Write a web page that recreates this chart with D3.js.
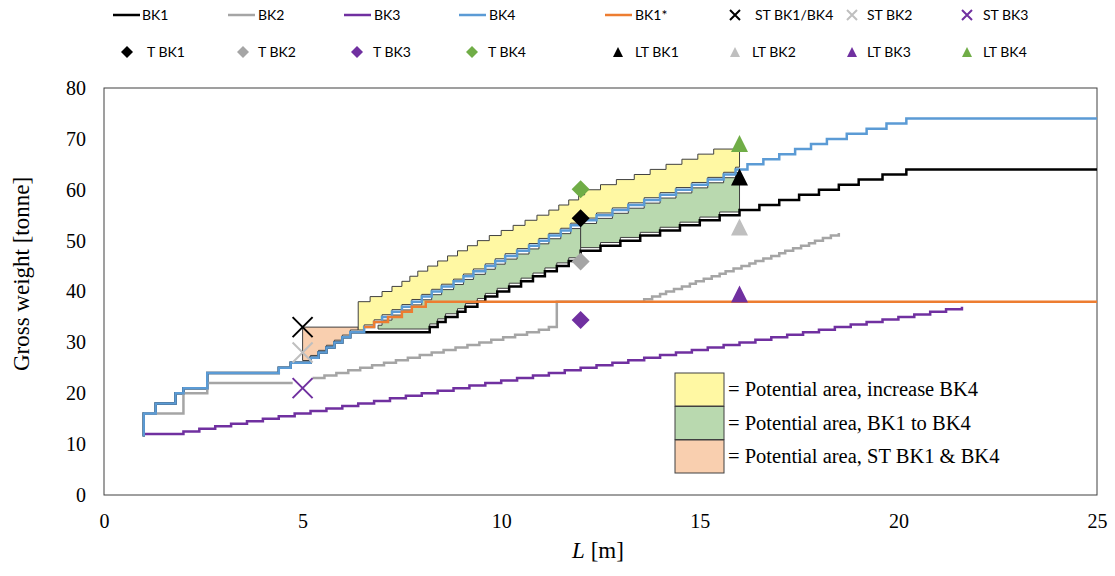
<!DOCTYPE html>
<html lang="en">
  <head>
    <meta charset="UTF-8" />
    <title>Gross weight vs L</title>
    <style>
      body { margin: 0; background: #fff; }
    </style>
  </head>
  <body>
    <svg id="chart"></svg>
    <script src="https://cdnjs.cloudflare.com/ajax/libs/d3/7.8.5/d3.min.js"></script>
    <script>
      const W = 1115, H = 576;
      const chart = d3.select("#chart").attr("width", W).attr("height", H);
      const SERIF = '"Liberation Serif", "Times New Roman", serif';
      const SANS = 'Lato, "Open Sans", sans-serif';

      const xTicks = [0, 5, 10, 15, 20, 25];
      const yTicks = [0, 10, 20, 30, 40, 50, 60, 70, 80];

      // step tables: [L from (m), gross weight (tonne)]; the last row ends the line
      const bk1 = [[1.0, 11.5], [1.0, 16], [1.3, 18], [1.8, 20], [2.0, 21], [2.6, 24], [4.4, 25], [4.7, 26],
        [5.2, 27], [5.4, 28], [5.6, 29], [5.8, 30], [6.0, 31], [6.2, 32], [8.2, 33], [8.4, 34], [8.6, 35],
        [8.9, 36], [9.1, 37], [9.4, 38], [9.6, 39], [9.9, 40], [10.2, 41], [10.5, 42], [10.8, 43], [11.1, 44],
        [11.4, 45], [11.7, 46], [12.0, 48], [12.5, 49], [13.0, 50], [13.5, 51], [14.0, 52], [14.5, 53],
        [15.0, 54], [15.5, 55], [16.0, 56], [16.5, 57], [17.0, 58], [17.5, 59], [18.0, 60], [18.5, 61],
        [19.0, 62], [19.6, 63], [20.2, 64], [25, 64]];
      const bk2a = [[1.0, 16], [2.0, 20], [2.6, 22], [4.75, 22]];
      const bk2b = [[5.25, 23], [5.55, 23.5], [5.85, 24], [6.15, 24.5], [6.45, 25], [6.75, 25.5], [7.05, 26],
        [7.35, 26.5], [7.65, 27], [7.95, 27.5], [8.25, 28], [8.55, 28.5], [8.85, 29], [9.15, 29.5], [9.45, 30],
        [9.75, 30.5], [10.05, 31], [10.35, 31.5], [10.65, 32], [10.95, 32.5], [11.2, 33], [11.4, 38],
        [13.6, 38.5], [13.8, 39], [14.0, 39.5], [14.15, 40], [14.35, 40.5], [14.55, 41], [14.75, 41.5],
        [14.9, 42], [15.1, 42.5], [15.3, 43], [15.5, 43.5], [15.65, 44], [15.85, 44.5], [16.05, 45],
        [16.25, 45.5], [16.4, 46], [16.6, 46.5], [16.8, 47], [17.0, 47.5], [17.15, 48], [17.35, 48.5],
        [17.55, 49], [17.75, 49.5], [17.9, 50], [18.1, 50.5], [18.3, 51], [18.5, 51.5]];
      const bk3 = [[1.0, 12], [2.0, 12.5], [2.4, 13], [2.8, 13.5], [3.2, 14], [3.6, 14.5], [4.0, 15], [4.4, 15.5],
        [4.8, 16], [5.2, 16.5], [5.6, 17], [6.0, 17.5], [6.4, 18], [6.8, 18.5], [7.2, 19], [7.6, 19.5],
        [8.0, 20], [8.4, 20.5], [8.8, 21], [9.2, 21.5], [9.6, 22], [10.0, 22.5], [10.4, 23], [10.8, 23.5],
        [11.2, 24], [11.6, 24.5], [12.0, 25], [12.4, 25.5], [12.8, 26], [13.2, 26.5], [13.6, 27], [14.0, 27.5],
        [14.4, 28], [14.8, 28.5], [15.2, 29], [15.6, 29.5], [16.0, 30], [16.4, 30.5], [16.8, 31], [17.2, 31.5],
        [17.6, 32], [18.0, 32.5], [18.4, 33], [18.8, 33.5], [19.2, 34], [19.6, 34.5], [20.0, 35], [20.4, 35.5],
        [20.8, 36], [21.2, 36.5], [21.6, 37], [21.6, 37]];
      const bk4 = [[1.0, 11.5], [1.0, 16], [1.3, 18], [1.8, 20], [2.0, 21], [2.6, 24], [4.4, 25], [4.7, 26],
        [5.2, 27], [5.4, 28], [5.6, 29], [5.8, 30], [6.0, 31], [6.2, 32], [6.55, 33], [6.8, 34], [7.0, 35],
        [7.25, 36], [7.5, 37], [7.75, 38], [8.0, 39], [8.25, 40], [8.5, 41], [8.8, 42], [9.05, 43], [9.3, 44],
        [9.6, 45], [9.85, 46], [10.1, 47], [10.4, 48], [10.7, 49], [10.95, 50], [11.2, 51], [11.5, 52],
        [11.75, 53], [12.0, 54], [12.4, 55], [12.8, 56], [13.2, 57], [13.6, 58], [14.0, 59], [14.4, 60],
        [14.8, 61], [15.2, 62], [15.6, 63], [15.9, 64], [16.2, 65], [16.6, 66], [17.0, 67], [17.4, 68],
        [17.8, 69], [18.2, 70], [18.7, 71], [19.2, 72], [19.7, 73], [20.2, 74], [25, 74]];
      const bk1star = [[6.55, 33], [6.8, 34], [7.15, 35], [7.5, 36], [7.75, 37], [8.1, 38], [25, 38]];
      const yellowTop = [[6.4, 38], [6.7, 39], [7.0, 40], [7.25, 41], [7.5, 42], [7.7, 43], [7.9, 44],
        [8.15, 45], [8.4, 46], [8.65, 47], [8.9, 48], [9.15, 49], [9.4, 50], [9.7, 51], [10.0, 52], [10.3, 53],
        [10.6, 54], [10.9, 55], [11.2, 56], [11.45, 57], [11.7, 58], [11.95, 59], [12.1, 60], [12.5, 61], [12.9, 62],
        [13.35, 63], [13.75, 64], [14.15, 65], [14.55, 66], [14.95, 67], [15.35, 68], [16.0, 68]];
      const peachTop = [[5.0, 33], [6.4, 33]];

      const yellowSpan = [6.4, 16.0];
      const greenSpans = [[6.9, 12.0], [12.0, 16.0]];
      const peachSpan = [5.0, 6.4];

      // single points
      const stL = 5.0, stW = [33, 28, 21];              // ST BK1/BK4, ST BK2, ST BK3
      const tL = 12.0, tW = [54.4, 45.9, 34.4, 60.1];   // T BK1..BK4
      const ltL = 16.0, ltW = [62.5, 52.7, 39.5, 69.1]; // LT BK1..BK4

      const x = d3.scaleLinear().domain([0, 25]).range([104, 1097]);
      const y = d3.scaleLinear().domain([0, 80]).range([495, 88]);

      // expand a step table into corner points, clipped to [a, b]
      function stepPts(tab, a, b) {
        const pts = [];
        for (let i = 0; i < tab.length; i++) {
          const [L, Wt] = tab[i];
          const next = i < tab.length - 1 ? tab[i + 1][0] : L;
          const s = Math.max(L, a), e = Math.min(next, b);
          if (e < s) continue;
          if (e === s && next !== L) continue;
          pts.push([s, Wt], [e, Wt]);
        }
        return pts;
      }

      const line = d3.line().x((d) => x(d[0])).y((d) => y(d[1]));

      function areaPath(topTab, botTab, span, topOff, botOff) {
        const top = stepPts(topTab, span[0], span[1]).map((d) => [x(d[0]), y(d[1]) + topOff]);
        const bot = stepPts(botTab, span[0], span[1]).map((d) => [x(d[0]), y(d[1]) + botOff]).reverse();
        return d3.line()(top.concat(bot)) + "Z";
      }

      const C = {
        black: "#000000", gray: "#A5A5A5", lgray: "#BFBFBF", purple: "#7030A0",
        blue: "#5B9BD5", orange: "#ED7D31", green: "#70AD47",
        yellow: "#FFF8A3", greenFill: "#B9D9AF", peach: "#F9CFAF", border: "#404040"
      };

      // axes
      const yAxis = chart.append("g").attr("transform", `translate(${x(0)},0)`)
        .call(d3.axisLeft(y).tickValues(yTicks).tickSize(0).tickPadding(18));
      const xAxis = chart.append("g").attr("transform", `translate(0,${y(0)})`)
        .call(d3.axisBottom(x).tickValues(xTicks).tickSize(0).tickPadding(19));
      [yAxis, xAxis].forEach((g) => {
        g.attr("font-family", null).attr("font-size", null);
        g.select(".domain").remove();
        g.selectAll("text").style("font-family", SERIF).style("font-size", "20px").attr("fill", "#000");
      });

      // areas
      const areas = chart.append("g");
      areas.append("path").attr("d", areaPath(peachTop, bk4, peachSpan, 0, -2.2))
        .attr("fill", C.peach).attr("stroke", C.border).attr("stroke-width", 1);
      areas.append("path").attr("d", areaPath(yellowTop, bk4, yellowSpan, 0, -2.2))
        .attr("fill", C.yellow).attr("stroke", C.border).attr("stroke-width", 1);
      greenSpans.forEach((sp) => {
        areas.append("path").attr("d", areaPath(bk4, bk1, sp, 3.2, -3.2))
          .attr("fill", C.greenFill).attr("stroke", C.border).attr("stroke-width", 1);
      });

      // frame
      chart.append("rect").attr("x", x(0)).attr("y", y(80))
        .attr("width", x(25) - x(0)).attr("height", y(0) - y(80))
        .attr("fill", "none").attr("stroke", C.border).attr("stroke-width", 1);

      // series lines
      const series = [
        { tab: bk1, color: C.black },
        { tab: bk2a, color: C.gray },
        { tab: bk2b, color: C.gray },
        { tab: bk3, color: C.purple },
        { tab: bk4, color: C.blue },
        { tab: bk1star, color: C.orange }
      ];
      chart.append("g").selectAll("path").data(series).join("path")
        .attr("d", (d) => line(stepPts(d.tab, -Infinity, Infinity)))
        .attr("fill", "none").attr("stroke", (d) => d.color).attr("stroke-width", 2.5);

      // marker shapes
      const xMark = (h) => `M${-h},${-h}L${h},${h}M${-h},${h}L${h},${-h}`;
      const diamond = (h) => `M0,${-h}L${h},0L0,${h}L${-h},0Z`;
      const tri = (h) => `M0,${-h}L${h},${h}L${-h},${h}Z`;

      const stColors = [C.black, C.lgray, C.purple];
      const tColors = [C.black, C.gray, C.purple, C.green];
      const ltColors = [C.black, C.lgray, C.purple, C.green];

      const marks = chart.append("g");
      marks.selectAll(".st").data(stW).join("path").attr("class", "st")
        .attr("transform", (d) => `translate(${x(stL)},${y(d)})`)
        .attr("d", xMark(10)).attr("fill", "none")
        .attr("stroke", (d, i) => stColors[i]).attr("stroke-width", 2);
      marks.selectAll(".t").data(tW).join("path").attr("class", "t")
        .attr("transform", (d) => `translate(${x(tL)},${y(d)})`)
        .attr("d", diamond(9)).attr("fill", (d, i) => tColors[i]);
      marks.selectAll(".lt").data(ltW).join("path").attr("class", "lt")
        .attr("transform", (d) => `translate(${x(ltL)},${y(d)})`)
        .attr("d", tri(8.5)).attr("fill", (d, i) => ltColors[i]);

      // top legend
      const leg1 = [
        { n: "BK1", k: "line", c: C.black, x: 113, tx: 142 },
        { n: "BK2", k: "line", c: C.gray, x: 228, tx: 258 },
        { n: "BK3", k: "line", c: C.purple, x: 344, tx: 374 },
        { n: "BK4", k: "line", c: C.blue, x: 459, tx: 489 },
        { n: "BK1*", k: "line", c: C.orange, x: 605, tx: 635 },
        { n: "ST BK1/BK4", k: "x", c: C.black, x: 735, tx: 755 },
        { n: "ST BK2", k: "x", c: C.lgray, x: 852, tx: 867 },
        { n: "ST BK3", k: "x", c: C.purple, x: 967, tx: 983 }
      ];
      const leg2 = [
        { n: "T BK1", k: "d", c: C.black, x: 127, tx: 147 },
        { n: "T BK2", k: "d", c: C.gray, x: 243, tx: 258 },
        { n: "T BK3", k: "d", c: C.purple, x: 357, tx: 373 },
        { n: "T BK4", k: "d", c: C.green, x: 472, tx: 488 },
        { n: "LT BK1", k: "t", c: C.black, x: 618, tx: 635 },
        { n: "LT BK2", k: "t", c: C.lgray, x: 735, tx: 752 },
        { n: "LT BK3", k: "t", c: C.purple, x: 852, tx: 867 },
        { n: "LT BK4", k: "t", c: C.green, x: 967, tx: 983 }
      ];
      const legend = chart.append("g");
      [[leg1, 15], [leg2, 52]].forEach(([items, cy]) => {
        items.forEach((it) => {
          if (it.k === "line") {
            legend.append("line").attr("x1", it.x).attr("x2", it.x + 27)
              .attr("y1", cy).attr("y2", cy).attr("stroke", it.c).attr("stroke-width", 2.5);
          } else if (it.k === "x") {
            legend.append("path").attr("transform", `translate(${it.x},${cy})`)
              .attr("d", xMark(5)).attr("stroke", it.c).attr("stroke-width", 2).attr("fill", "none");
          } else if (it.k === "d") {
            legend.append("path").attr("transform", `translate(${it.x},${cy})`)
              .attr("d", diamond(6)).attr("fill", it.c);
          } else {
            legend.append("path").attr("transform", `translate(${it.x},${cy})`)
              .attr("d", tri(5)).attr("fill", it.c);
          }
          legend.append("text").attr("x", it.tx).attr("y", cy + 5)
            .style("font-family", SANS).style("font-size", "14px").attr("fill", "#000").text(it.n);
        });
      });

      // area legend
      const areaLegend = [
        { n: "= Potential area, increase BK4", c: C.yellow },
        { n: "= Potential area, BK1 to BK4", c: C.greenFill },
        { n: "= Potential area, ST BK1 & BK4", c: C.peach }
      ];
      const al = chart.append("g").attr("transform", "translate(675,373)");
      al.selectAll("rect").data(areaLegend).join("rect")
        .attr("x", 0).attr("y", (d, i) => i * 33.5).attr("width", 49).attr("height", 33)
        .attr("fill", (d) => d.c).attr("stroke", C.border).attr("stroke-width", 1);
      al.selectAll("text").data(areaLegend).join("text")
        .attr("x", 53).attr("y", (d, i) => i * 33.5 + 23)
        .style("font-family", SERIF).style("font-size", "20.5px").attr("fill", "#000")
        .text((d) => d.n);

      // axis titles
      chart.append("text").style("font-family", SERIF).style("font-size", "23px")
        .attr("text-anchor", "middle").attr("transform", "translate(29,274) rotate(-90)")
        .text("Gross weight [tonne]");
      const xt = chart.append("text").style("font-family", SERIF).style("font-size", "23px")
        .attr("text-anchor", "middle").attr("x", 598).attr("y", 558);
      xt.append("tspan").attr("font-style", "italic").text("L");
      xt.append("tspan").text(" [m]");
    </script>
  </body>
</html>
